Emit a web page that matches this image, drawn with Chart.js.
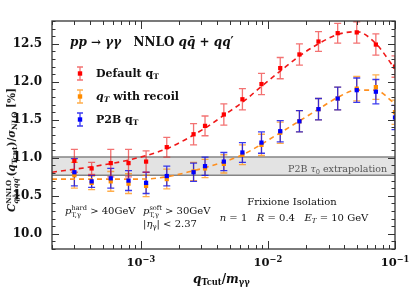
<!DOCTYPE html>
<html>
<head>
<meta charset="utf-8">
<script src="https://cdn.jsdelivr.net/npm/chart.js@4.4.1/dist/chart.umd.min.js"></script>
<style>
html, body { margin: 0; padding: 0; background: #fff; }
#wrap { position: relative; width: 409px; height: 291px; overflow: hidden; }
#wrap canvas { position: absolute; left: 0; top: 0; }
.t { position: absolute; white-space: nowrap; font-family: 'DejaVu Serif', serif; color: #111; line-height: 1; }
.ss { display: inline-block; vertical-align: -0.42em; font-size: 0.66em; line-height: 1; text-align: left; }
.sb { font-size: 0.7em; vertical-align: -0.25em; line-height: 0; }
</style>
</head>
<body>
<div id="wrap">
  <canvas id="chart" width="409" height="291"></canvas>

  <div class="t" style="left:70px;top:36px;font-size:12px;font-weight:bold"><i>pp</i> → <i>γγ</i>&nbsp;&nbsp; NNLO <i>qq̄</i> + <i>qq</i>′</div>

  <div class="t" style="left:96px;top:68px;font-size:11px;font-weight:bold">Default q<span class="sb">T</span></div>
  <div class="t" style="left:96px;top:91px;font-size:11px;font-weight:bold"><i>q<span class="sb">T</span></i> with recoil</div>
  <div class="t" style="left:96px;top:114px;font-size:11px;font-weight:bold">P2B q<span class="sb">T</span></div>

  <div class="t" style="left:288px;top:164px;font-size:9.5px;color:#555">P2B <i>τ</i><span class="sb">0</span> extrapolation</div>

  <div class="t" style="left:65px;top:205px;font-size:10px"><i>p</i><span class="ss">hard<br>T,γ</span> &gt; 40GeV</div>
  <div class="t" style="left:143px;top:205px;font-size:10px"><i>p</i><span class="ss">soft<br>T,γ</span> &gt; 30GeV</div>
  <div class="t" style="left:143px;top:219px;font-size:10px">|<i>η</i><span class="sb">γ</span>| &lt; 2.37</div>

  <div class="t" style="left:292px;top:197px;font-size:10px;transform:translateX(-50%)">Frixione Isolation</div>
  <div class="t" style="left:294px;top:213px;font-size:10px;transform:translateX(-50%)"><i>n</i> = 1&nbsp;&nbsp;&nbsp;<i>R</i> = 0.4&nbsp;&nbsp;&nbsp;<i>E<span class="sb">T</span></i> = 10 GeV</div>

  <div class="t" style="left:193px;top:273px;font-size:12px;font-weight:bold"><i>q</i><span class="sb">Tcut</span>/<i>m</i><span class="sb">γγ</span></div>

  <div class="t" style="left:13px;top:150px;font-size:10.5px;font-weight:bold;transform:translate(-50%,-50%) rotate(-90deg)"><i>C</i><span class="ss">NNLO<br><i>qq̄</i>+<i>qq</i>′</span>(<i>q</i><span class="sb">Tcut</span>)/<i>σ</i><span class="sb">NLO</span> [%]</div>

  <div id="xlabels"></div>
</div>

<script>
// q_Tcut / m_yy values of the points
const xCut = [0.0003, 0.00041, 0.00058, 0.0008, 0.0011, 0.0016, 0.0026, 0.0032, 0.0045, 0.0063,
              0.0089, 0.0125, 0.0177, 0.025, 0.0354, 0.05, 0.0707, 0.1];

// Default qT
const defaultQt  = [10.96, 10.86, 10.93, 10.93, 10.95, 11.14, 11.31, 11.42, 11.57, 11.77,
                    11.97, 12.18, 12.36, 12.53, 12.64, 12.65, 12.49, 12.20];
const defaultErr = [0.15, 0.08, 0.18, 0.18, 0.14, 0.13, 0.14, 0.13, 0.14, 0.14,
                    0.14, 0.14, 0.14, 0.13, 0.13, 0.14, 0.14, 0.14];

// qT with recoil
const recoilQt  = [10.77, 10.67, 10.69, 10.66, 10.63, 10.72, 10.82, 10.86, 10.92, 11.04,
                   11.17, 11.33, 11.48, 11.64, 11.78, 11.91, 11.93, 11.60];
const recoilErr = [0.17, 0.09, 0.13, 0.13, 0.14, 0.13, 0.12, 0.12, 0.12, 0.13,
                   0.14, 0.14, 0.14, 0.14, 0.15, 0.16, 0.16, 0.16];

// P2B qT
const p2bQt  = [10.81, 10.69, 10.73, 10.70, 10.67, 10.76, 10.81, 10.89, 10.95, 11.07,
                11.20, 11.35, 11.48, 11.64, 11.78, 11.89, 11.87, 11.53];
const p2bErr = [0.18, 0.08, 0.13, 0.13, 0.14, 0.13, 0.12, 0.12, 0.12, 0.13,
                0.14, 0.14, 0.14, 0.14, 0.15, 0.16, 0.16, 0.16];

// dashed fit curves
const defaultFitX = [0.0002, 0.0004, 0.0008, 0.0016, 0.0032, 0.0045, 0.0063, 0.0089, 0.0125, 0.0177, 0.025, 0.035, 0.05, 0.07, 0.1];
const defaultFitY = [10.81, 10.88, 10.97, 11.12, 11.39, 11.56, 11.73, 11.94, 12.14, 12.34, 12.50, 12.62, 12.66, 12.51, 12.17];
const recoilFitX = [0.0002, 0.0005, 0.001, 0.0016, 0.0026, 0.0032, 0.0063, 0.0125, 0.025, 0.035, 0.05, 0.07, 0.1];
const recoilFitY = [10.72, 10.72, 10.72, 10.75, 10.83, 10.87, 11.04, 11.33, 11.64, 11.79, 11.89, 11.89, 11.71];

// P2B tau0 extrapolation band
const bandLow = 10.77;
const bandHigh = 11.01;

const yTicks = [10.0, 10.5, 11.0, 11.5, 12.0, 12.5];
const xTicks = [1e-3, 1e-2, 1e-1];
const xTickLabels = ['10<sup>−3</sup>', '10<sup>−2</sup>', '10<sup>−1</sup>'];

const pts = (xs, ys) => xs.map((v, i) => ({ x: v, y: ys[i] }));

const extras = {
    id: 'extras',
    beforeDatasetsDraw(chart) {
        const { ctx, chartArea: a, scales: { x, y } } = chart;
        ctx.save();
        let yt = y.getPixelForValue(bandHigh), yb = y.getPixelForValue(bandLow);
        ctx.fillStyle = '#e3e3e3';
        ctx.fillRect(a.left, yt, a.right - a.left, yb - yt);
        ctx.strokeStyle = '#858585';
        ctx.lineWidth = 1.6;
        ctx.beginPath();
        ctx.moveTo(a.left, yt); ctx.lineTo(a.right, yt);
        ctx.moveTo(a.left, yb); ctx.lineTo(a.right, yb);
        ctx.stroke();

        ctx.beginPath();
        ctx.rect(a.left, a.top, a.right - a.left, a.bottom - a.top);
        ctx.clip();
        // error bars, drawn back to front
        for (let i = chart.data.datasets.length - 1; i >= 0; i--) {
            let ds = chart.data.datasets[i];
            if (!ds.errors) continue;
            ctx.strokeStyle = ds.errorColor;
            ctx.lineWidth = 1.3;
            ds.data.forEach((p, j) => {
                let px = x.getPixelForValue(p.x);
                let y1 = y.getPixelForValue(p.y + ds.errors[j]);
                let y2 = y.getPixelForValue(p.y - ds.errors[j]);
                ctx.beginPath();
                ctx.moveTo(px, y1); ctx.lineTo(px, y2);
                ctx.moveTo(px - 3.5, y1); ctx.lineTo(px + 3.5, y1);
                ctx.moveTo(px - 3.5, y2); ctx.lineTo(px + 3.5, y2);
                ctx.stroke();
            });
        }
        ctx.restore();
    },
    afterDraw(chart) {
        const { ctx, chartArea: a, scales: { x, y } } = chart;
        ctx.save();
        ctx.strokeStyle = '#333';
        ctx.lineWidth = 1;
        ctx.beginPath();
        // y ticks, inside, both sides
        for (let v = Math.ceil(y.min * 10); v <= Math.floor(y.max * 10); v++) {
            let py = Math.round(y.getPixelForValue(v / 10)) + 0.5;
            let len = v % 5 === 0 ? 7 : 3.5;
            ctx.moveTo(a.left, py); ctx.lineTo(a.left + len, py);
            ctx.moveTo(a.right, py); ctx.lineTo(a.right - len, py);
        }
        // x ticks, inside, top and bottom
        for (let e = Math.floor(Math.log10(x.min)); e <= Math.ceil(Math.log10(x.max)); e++) {
            for (let k = 1; k <= 9; k++) {
                let v = k * Math.pow(10, e);
                if (v < x.min * 0.999 || v > x.max * 1.001) continue;
                let px = Math.round(x.getPixelForValue(v)) + 0.5;
                let len = k === 1 ? 8 : 4;
                ctx.moveTo(px, a.bottom); ctx.lineTo(px, a.bottom - len);
                ctx.moveTo(px, a.top); ctx.lineTo(px, a.top + len);
            }
        }
        ctx.stroke();
        ctx.lineWidth = 1.3;
        ctx.strokeRect(a.left, a.top, a.right - a.left, a.bottom - a.top);

        // legend symbols
        chart.data.datasets.filter(d => d.legendRow !== undefined).forEach(d => {
            let lx = 80, ly = 73.5 + d.legendRow * 23;
            ctx.strokeStyle = d.errorColor;
            ctx.lineWidth = 1.3;
            ctx.beginPath();
            ctx.moveTo(lx, ly - 6.5); ctx.lineTo(lx, ly + 6.5);
            ctx.moveTo(lx - 3, ly - 6.5); ctx.lineTo(lx + 3, ly - 6.5);
            ctx.moveTo(lx - 3, ly + 6.5); ctx.lineTo(lx + 3, ly + 6.5);
            ctx.stroke();
            ctx.fillStyle = d.pointBackgroundColor;
            ctx.fillRect(lx - 2.2, ly - 2.2, 4.4, 4.4);
        });
        ctx.restore();
    }
};

const chart = new Chart(document.getElementById('chart'), {
    type: 'scatter',
    data: {
        datasets: [
            {
                label: 'Default qT',
                data: pts(xCut, defaultQt),
                errors: defaultErr,
                errorColor: 'rgba(235, 20, 20, 0.6)',
                pointStyle: 'rect',
                pointRadius: 3,
                pointBackgroundColor: '#ff0000',
                pointBorderWidth: 0,
                legendRow: 0
            },
            {
                label: 'P2B qT',
                data: pts(xCut, p2bQt),
                errors: p2bErr,
                errorColor: 'rgba(10, 10, 235, 0.8)',
                pointStyle: 'rect',
                pointRadius: 3,
                pointBackgroundColor: '#0000ff',
                pointBorderWidth: 0,
                legendRow: 2
            },
            {
                label: 'qT with recoil',
                data: pts(xCut, recoilQt),
                errors: recoilErr,
                errorColor: 'rgba(255, 140, 0, 0.7)',
                pointStyle: 'rect',
                pointRadius: 3,
                pointBackgroundColor: '#ff8c00',
                pointBorderWidth: 0,
                legendRow: 1
            },
            {
                label: 'recoil fit',
                data: pts(recoilFitX, recoilFitY),
                showLine: true,
                borderColor: '#ff9020',
                borderWidth: 1.6,
                borderDash: [5, 4],
                cubicInterpolationMode: 'monotone',
                pointRadius: 0
            },
            {
                label: 'default fit',
                data: pts(defaultFitX, defaultFitY),
                showLine: true,
                borderColor: '#f01818',
                borderWidth: 1.6,
                borderDash: [5, 4],
                cubicInterpolationMode: 'monotone',
                pointRadius: 0
            }
        ]
    },
    options: {
        responsive: false,
        animation: false,
        devicePixelRatio: 1,
        layout: { padding: { left: 0, right: 14, top: 21, bottom: 0 } },
        plugins: { legend: { display: false }, tooltip: { enabled: false } },
        scales: {
            x: {
                type: 'logarithmic',
                min: 2e-4,
                max: 0.1,
                grid: { display: false },
                border: { display: false },
                ticks: { display: false },
                afterBuildTicks: s => { s.ticks = xTicks.map(v => ({ value: v })); },
                afterFit: s => { s.height = 42; }
            },
            y: {
                min: 9.8,
                max: 12.8,
                grid: { display: false },
                border: { display: false },
                ticks: {
                    padding: 2,
                    color: '#111',
                    font: { family: 'DejaVu Serif', weight: 'bold', size: 12 },
                    callback: v => v.toFixed(1)
                },
                afterBuildTicks: s => { s.ticks = yTicks.map(v => ({ value: v })); },
                afterFit: s => { s.width = 52; }
            }
        }
    },
    plugins: [extras]
});

// x tick labels with real superscripts
let xs = chart.scales.x;
let holder = document.getElementById('xlabels');
xTicks.forEach((v, i) => {
    let d = document.createElement('div');
    d.className = 't';
    d.style.cssText = 'top:257px;font-size:11.5px;font-weight:bold;transform:translateX(-50%);left:' + xs.getPixelForValue(v) + 'px';
    d.innerHTML = xTickLabels[i];
    d.querySelector('sup').style.cssText = 'font-size:0.72em;vertical-align:0.45em;line-height:0';
    holder.appendChild(d);
});
</script>
</body>
</html>
